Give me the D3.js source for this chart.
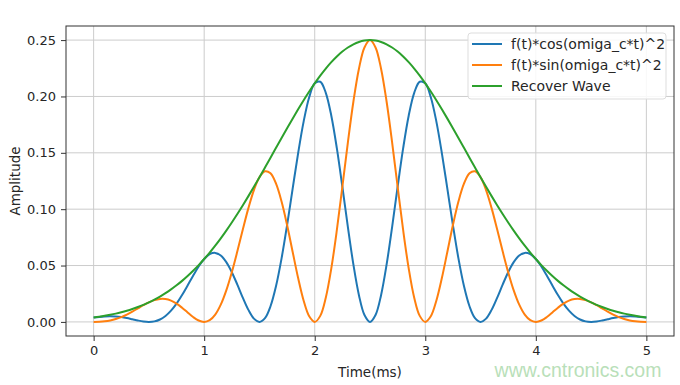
<!DOCTYPE html>
<html>
<head>
<meta charset="utf-8">
<script src="https://cdn.jsdelivr.net/npm/d3@7"></script>
<style>
  body { margin: 0; background: #ffffff; }
  text { font-family: "DejaVu Sans", sans-serif; fill: #262626; }
</style>
</head>
<body>
<div id="chart"></div>
<script>
// time samples (ms)
var timeMs = [
  0.00, 0.05, 0.10, 0.15, 0.20, 0.25, 0.30, 0.35, 0.40, 0.45,
  0.50, 0.55, 0.60, 0.65, 0.70, 0.75, 0.80, 0.85, 0.90, 0.95,
  1.00, 1.05, 1.10, 1.15, 1.20, 1.25, 1.30, 1.35, 1.40, 1.45,
  1.50, 1.55, 1.60, 1.65, 1.70, 1.75, 1.80, 1.85, 1.90, 1.95,
  2.00, 2.05, 2.10, 2.15, 2.20, 2.25, 2.30, 2.35, 2.40, 2.45,
  2.50,
  2.55, 2.60, 2.65, 2.70, 2.75, 2.80, 2.85, 2.90, 2.95, 3.00,
  3.05, 3.10, 3.15, 3.20, 3.25, 3.30, 3.35, 3.40, 3.45, 3.50,
  3.55, 3.60, 3.65, 3.70, 3.75, 3.80, 3.85, 3.90, 3.95, 4.00,
  4.05, 4.10, 4.15, 4.20, 4.25, 4.30, 4.35, 4.40, 4.45, 4.50,
  4.55, 4.60, 4.65, 4.70, 4.75, 4.80, 4.85, 4.90, 4.95, 5.00
];

// f(t)*cos(omiga_c*t)^2
var cosWave = [
  0.00388, 0.00446, 0.00486, 0.00500, 0.00481, 0.00428, 0.00343, 0.00236, 0.00126, 0.00037,
  0, 0.00048, 0.00215, 0.00526, 0.00996, 0.01622, 0.02383, 0.03232, 0.04104, 0.04916,
  0.05578, 0.06004, 0.06122, 0.05889, 0.05303, 0.04411, 0.03307, 0.02134, 0.01066, 0.00293,
  0, 0.00335, 0.01391, 0.03183, 0.05637, 0.08591, 0.11803, 0.14975, 0.17788, 0.19934,
  0.21162, 0.21308, 0.20325, 0.18290, 0.15410, 0.11990, 0.08410, 0.05076, 0.02371, 0.00611,
  0,
  0.00611, 0.02371, 0.05076, 0.08410, 0.11990, 0.15410, 0.18290, 0.20325, 0.21308, 0.21162,
  0.19934, 0.17788, 0.14975, 0.11803, 0.08591, 0.05637, 0.03183, 0.01391, 0.00335, 0,
  0.00293, 0.01066, 0.02134, 0.03307, 0.04411, 0.05303, 0.05889, 0.06122, 0.06004, 0.05578,
  0.04916, 0.04104, 0.03232, 0.02383, 0.01622, 0.00996, 0.00526, 0.00215, 0.00048, 0,
  0.00037, 0.00126, 0.00236, 0.00343, 0.00428, 0.00481, 0.00500, 0.00486, 0.00446, 0.00388
];

// f(t)*sin(omiga_c*t)^2
var sinWave = [
  0, 0.00011, 0.00051, 0.00130, 0.00254, 0.00428, 0.00649, 0.00911, 0.01196, 0.01481,
  0.01737, 0.01934, 0.02038, 0.02027, 0.01887, 0.01623, 0.01258, 0.00839, 0.00433, 0.00123,
  0, 0.00151, 0.00646, 0.01529, 0.02800, 0.04411, 0.06265, 0.08218, 0.10093, 0.11695,
  0.12835, 0.13363, 0.13178, 0.12261, 0.10680, 0.08591, 0.06230, 0.03888, 0.01878, 0.00500,
  0, 0.00535, 0.02146, 0.04749, 0.08134, 0.11990, 0.15932, 0.19552, 0.22463, 0.24347,
  0.25000,
  0.24347, 0.22463, 0.19552, 0.15932, 0.11990, 0.08134, 0.04749, 0.02146, 0.00535, 0,
  0.00500, 0.01878, 0.03888, 0.06230, 0.08591, 0.10680, 0.12261, 0.13178, 0.13363, 0.12835,
  0.11695, 0.10093, 0.08218, 0.06265, 0.04411, 0.02800, 0.01529, 0.00646, 0.00151, 0,
  0.00123, 0.00433, 0.00839, 0.01258, 0.01623, 0.01887, 0.02027, 0.02038, 0.01934, 0.01737,
  0.01481, 0.01196, 0.00911, 0.00649, 0.00428, 0.00254, 0.00130, 0.00051, 0.00011, 0
];

// Recover Wave (envelope)
var recoverWave = [
  0.00388, 0.00457, 0.00537, 0.00630, 0.00735, 0.00856, 0.00992, 0.01147, 0.01322, 0.01518,
  0.01737, 0.01982, 0.02253, 0.02553, 0.02883, 0.03245, 0.03641, 0.04071, 0.04537, 0.05039,
  0.05578, 0.06155, 0.06768, 0.07418, 0.08103, 0.08822, 0.09572, 0.10352, 0.11159, 0.11988,
  0.12835, 0.13698, 0.14569, 0.15444, 0.16317, 0.17182, 0.18033, 0.18863, 0.19666, 0.20434,
  0.21162, 0.21843, 0.22471, 0.23039, 0.23544, 0.23980, 0.24342, 0.24628, 0.24834, 0.24958,
  0.25000,
  0.24958, 0.24834, 0.24628, 0.24342, 0.23980, 0.23544, 0.23039, 0.22471, 0.21843, 0.21162,
  0.20434, 0.19666, 0.18863, 0.18033, 0.17182, 0.16317, 0.15444, 0.14569, 0.13698, 0.12835,
  0.11988, 0.11159, 0.10352, 0.09572, 0.08822, 0.08103, 0.07418, 0.06768, 0.06155, 0.05578,
  0.05039, 0.04537, 0.04071, 0.03641, 0.03245, 0.02883, 0.02553, 0.02253, 0.01982, 0.01737,
  0.01518, 0.01322, 0.01147, 0.00992, 0.00856, 0.00735, 0.00630, 0.00537, 0.00457, 0.00388
];

var seriesNames = ["f(t)*cos(omiga_c*t)^2", "f(t)*sin(omiga_c*t)^2", "Recover Wave"];
var xTicks = [0, 1, 2, 3, 4, 5];
var yTicks = [0, 0.05, 0.10, 0.15, 0.20, 0.25];

// SVG wrapper dimensions
var svgWidth = 680;
var svgHeight = 385;

// plot box
var margin = { top: 26, right: 6, bottom: 49, left: 66 };
var width = svgWidth - margin.left - margin.right;
var height = svgHeight - margin.top - margin.bottom;

var colors = ["#1f77b4", "#ff7f0e", "#2ca02c"];

var svg = d3.select("#chart")
  .append("svg")
  .attr("width", svgWidth)
  .attr("height", svgHeight);

var chartGroup = svg.append("g")
  .attr("transform", `translate(${margin.left}, ${margin.top})`);

// scales (matplotlib-like 5% margins)
var xScale = d3.scaleLinear()
  .domain([-0.25, 5.25])
  .range([0, width]);

var yScale = d3.scaleLinear()
  .domain([-0.0125, 0.2625])
  .range([height, 0]);

// grid
chartGroup.append("g")
  .selectAll("line")
  .data(xTicks)
  .enter()
  .append("line")
  .attr("x1", d => xScale(d))
  .attr("x2", d => xScale(d))
  .attr("y1", 0)
  .attr("y2", height)
  .attr("stroke", "#cccccc")
  .attr("stroke-width", 1);

chartGroup.append("g")
  .selectAll("line")
  .data(yTicks)
  .enter()
  .append("line")
  .attr("x1", 0)
  .attr("x2", width)
  .attr("y1", d => yScale(d))
  .attr("y2", d => yScale(d))
  .attr("stroke", "#cccccc")
  .attr("stroke-width", 1);

// axes
var bottomAxis = d3.axisBottom(xScale)
  .tickValues(xTicks)
  .tickFormat(d3.format("d"))
  .tickSize(5)
  .tickPadding(5);

var leftAxis = d3.axisLeft(yScale)
  .tickValues(yTicks)
  .tickFormat(d3.format(".2f"))
  .tickSize(5)
  .tickPadding(5);

var xAxisG = chartGroup.append("g")
  .attr("transform", `translate(0, ${height})`)
  .call(bottomAxis);

var yAxisG = chartGroup.append("g")
  .call(leftAxis);

[xAxisG, yAxisG].forEach(function(g) {
  g.select(".domain").remove();
  g.selectAll("line").attr("stroke", "#333333");
  g.selectAll("text")
    .style("font-size", "13px")
    .style("font-family", "'DejaVu Sans', sans-serif")
    .attr("fill", "#262626");
});

// lines
var seriesData = [cosWave, sinWave, recoverWave];

var lineGen = d3.line()
  .x((d, i) => xScale(timeMs[i]))
  .y(d => yScale(d))
  .curve(d3.curveCatmullRom);

chartGroup.append("g")
  .selectAll("path")
  .data(seriesData)
  .enter()
  .append("path")
  .attr("d", d => lineGen(d))
  .attr("fill", "none")
  .attr("stroke", (d, i) => colors[i])
  .attr("stroke-width", 2);

// frame
chartGroup.append("rect")
  .attr("x", 0)
  .attr("y", 0)
  .attr("width", width)
  .attr("height", height)
  .attr("fill", "none")
  .attr("stroke", "#333333")
  .attr("stroke-width", 1);

// legend
var legend = chartGroup.append("g")
  .attr("transform", "translate(402, 7)");

legend.append("rect")
  .attr("width", 198)
  .attr("height", 66)
  .attr("rx", 3)
  .attr("fill", "#ffffff")
  .attr("fill-opacity", 0.85)
  .attr("stroke", "#dddddd");

var legendItems = legend.selectAll(".item")
  .data(seriesNames)
  .enter()
  .append("g")
  .attr("class", "item")
  .attr("transform", (d, i) => `translate(0, ${11 + i * 21})`);

legendItems.append("line")
  .attr("x1", 4)
  .attr("x2", 34)
  .attr("stroke", (d, i) => colors[i])
  .attr("stroke-width", 2);

legendItems.append("text")
  .attr("x", 43)
  .attr("dy", "0.35em")
  .style("font-size", "14px")
  .text(d => d);

// axis labels
svg.append("text")
  .attr("transform", `translate(20, ${margin.top + height / 2}) rotate(-90)`)
  .attr("text-anchor", "middle")
  .style("font-size", "13.5px")
  .text("Amplitude");

svg.append("text")
  .attr("x", margin.left + width / 2)
  .attr("y", 377)
  .attr("text-anchor", "middle")
  .style("font-size", "13.5px")
  .text("Time(ms)");

// watermark
svg.append("text")
  .attr("x", 578)
  .attr("y", 377)
  .attr("text-anchor", "middle")
  .style("font-family", "'Liberation Sans', Arial, sans-serif")
  .style("font-size", "19.5px")
  .style("fill", "#b9dfb9")
  .text("www.cntronics.com");
</script>
</body>
</html>
